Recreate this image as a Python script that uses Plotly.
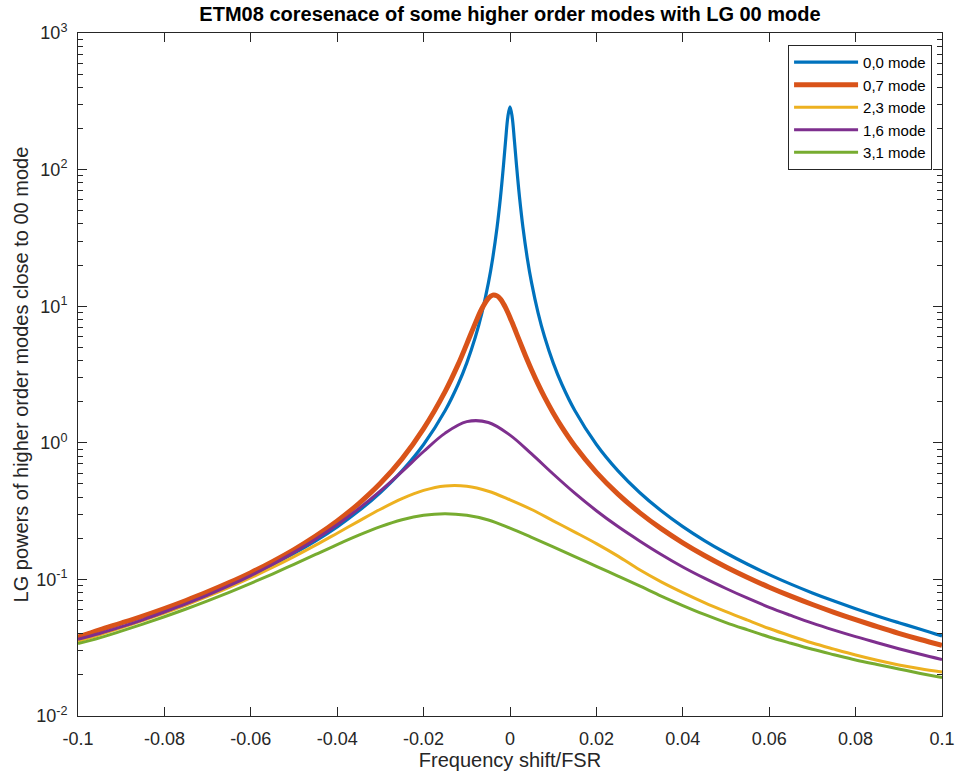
import plotly.graph_objects as go

# ---- data ----
X_SHARP = [-0.1, -0.095, -0.09, -0.085, -0.08, -0.075, -0.07, -0.065, -0.06, -0.055,
           -0.05, -0.045, -0.04, -0.035, -0.03, -0.025, -0.02, -0.015, -0.012, -0.01,
           -0.008, -0.0065, -0.005, -0.004, -0.003, -0.0022, -0.0015, -0.001, -0.0005,
           0,
           0.0005, 0.001, 0.0015, 0.0022, 0.003, 0.004, 0.005, 0.0065, 0.008, 0.01,
           0.012, 0.015, 0.02, 0.025, 0.03, 0.035, 0.04, 0.045, 0.05, 0.055,
           0.06, 0.065, 0.07, 0.075, 0.08, 0.085, 0.09, 0.095, 0.1]

MODE_00 = [0.038, 0.0428, 0.0478, 0.0536, 0.0605, 0.0689, 0.079, 0.0916, 0.1075, 0.128,
           0.155, 0.1915, 0.2425, 0.3175, 0.433, 0.623, 0.972, 1.724, 2.684, 3.85,
           5.97, 8.95, 14.81, 22.48, 37.7, 63.0, 108.3, 165.7, 243.1,
           288,
           243.1, 165.7, 108.3, 63.0, 37.7, 22.48, 14.81, 8.95, 5.97, 3.85,
           2.684, 1.724, 0.972, 0.623, 0.433, 0.3182, 0.2437, 0.1926, 0.156, 0.129,
           0.1084, 0.0923, 0.0796, 0.0694, 0.061, 0.054, 0.0482, 0.0432, 0.0385]

MODE_07 = [0.0378, 0.0427, 0.0479, 0.0539, 0.0612, 0.0701, 0.0810, 0.0947, 0.1120, 0.135,
           0.1653, 0.2075, 0.268, 0.359, 0.505, 0.763, 1.27, 2.38, 3.75, 5.3,
           7.55, 9.62, 11.45, 12.06, 11.9, 11.25, 10.4, 9.715, 9.0,
           8.28,
           7.59, 6.94, 6.333, 5.571, 4.818, 4.038, 3.41, 2.687, 2.157, 1.653,
           1.301, 0.947, 0.6077, 0.4211, 0.3084, 0.2353, 0.1853, 0.1496, 0.1234, 0.1034,
           0.0877, 0.0754, 0.0655, 0.0574, 0.0507, 0.0451, 0.0403, 0.0363, 0.0329]

X_BROAD = [-0.1, -0.095, -0.09, -0.085, -0.08, -0.075, -0.07, -0.065, -0.06, -0.055,
           -0.05, -0.045, -0.04, -0.035, -0.03, -0.025, -0.02, -0.015, -0.01, -0.005,
           0,
           0.005, 0.01, 0.015, 0.02, 0.025, 0.03, 0.035, 0.04, 0.045, 0.05,
           0.055, 0.06, 0.065, 0.07, 0.075, 0.08, 0.085, 0.09, 0.095, 0.1]

MODE_23 = [0.0352, 0.03935, 0.04416, 0.04987, 0.05672, 0.06497, 0.07504, 0.08743, 0.1029, 0.1222,
           0.1468, 0.1781, 0.2179, 0.2671, 0.326, 0.390, 0.4482, 0.4831, 0.4807, 0.4421,
           0.3824,
           0.325, 0.2685, 0.222, 0.1828, 0.148, 0.1176, 0.096, 0.0801, 0.0677, 0.0581,
           0.0503, 0.0437, 0.0385, 0.0342, 0.03085, 0.02795, 0.02558, 0.02366, 0.02218, 0.02100]

MODE_16 = [0.0365, 0.0402, 0.0449, 0.0506, 0.0577, 0.0662, 0.0767, 0.0899, 0.1067, 0.1285,
           0.1576, 0.1967, 0.2512, 0.3294, 0.4442, 0.6153, 0.8636, 1.177, 1.428, 1.409,
           1.1386,
           0.8294, 0.5911, 0.4279, 0.3184, 0.2437, 0.1913, 0.1522, 0.1233, 0.1021, 0.0858,
           0.0728, 0.0625, 0.0545, 0.0478, 0.0425, 0.0381, 0.0344, 0.0311, 0.0283, 0.0259]

MODE_31 = [0.0339, 0.03731, 0.04178, 0.04704, 0.05328, 0.06071, 0.06966, 0.08046, 0.09357, 0.1095,
           0.1289, 0.1522, 0.1798, 0.2107, 0.2433, 0.2734, 0.2952, 0.303, 0.2945, 0.2723,
           0.237,
           0.2032, 0.1732, 0.1469, 0.1245, 0.1058, 0.0896, 0.0755, 0.0644, 0.0554, 0.0483,
           0.0427, 0.0379, 0.0341, 0.0308, 0.0281, 0.0257, 0.0238, 0.0221, 0.0205, 0.0191]

X_TICKS = [-0.1, -0.08, -0.06, -0.04, -0.02, 0, 0.02, 0.04, 0.06, 0.08, 0.1]
X_TICK_LABELS = ["-0.1", "-0.08", "-0.06", "-0.04", "-0.02", "0", "0.02", "0.04", "0.06", "0.08", "0.1"]
Y_TICKS = [0.01, 0.1, 1, 10, 100, 1000]
Y_TICK_LABELS = ["10<sup>-2</sup>", "10<sup>-1</sup>", "10<sup>0</sup>", "10<sup>1</sup>",
                 "10<sup>2</sup>", "10<sup>3</sup>"]

SERIES = [
    ("0,0 mode", X_SHARP, MODE_00, "#0072BD", 3.2),
    ("0,7 mode", X_SHARP, MODE_07, "#D95319", 5),
    ("2,3 mode", X_BROAD, MODE_23, "#EDB120", 3),
    ("1,6 mode", X_BROAD, MODE_16, "#7E2F8E", 3),
    ("3,1 mode", X_BROAD, MODE_31, "#77AC30", 3),
]

FONT = "Liberation Sans, Arial, sans-serif"
AX = "#262626"

fig = go.Figure()
for name, xs, ys, color, w in SERIES:
    fig.add_trace(go.Scatter(x=xs, y=ys, name=name, mode="lines",
                             line=dict(color=color, width=w, shape="spline", smoothing=1.0)))

fig.update_layout(
    width=967, height=780,
    margin=dict(l=78, r=17, t=33, b=60),
    paper_bgcolor="white", plot_bgcolor="white",
    font=dict(family=FONT, size=18, color=AX),
    title=dict(text="<b>ETM08 coresenace of some higher order modes with LG 00 mode</b>",
               xref="paper", x=0.5, xanchor="center", y=0.9815, yanchor="middle",
               font=dict(size=20, color="black")),
    showlegend=True,
    legend=dict(x=0.9885, xanchor="right", y=0.9825, yanchor="top",
                bgcolor="white", bordercolor=AX, borderwidth=1,
                font=dict(size=15, color="black"), itemwidth=64,
                tracegroupgap=0),
)

# y-axis label placed as a rotated annotation so its position can be set exactly
fig.add_annotation(text="LG powers of higher order modes close to 00 mode",
                   xref="paper", yref="paper", x=-0.066, y=0.5,
                   xanchor="center", yanchor="middle", textangle=-90,
                   showarrow=False, font=dict(size=20, color=AX))

fig.update_xaxes(
    range=[-0.1, 0.1], tickvals=X_TICKS, ticktext=X_TICK_LABELS,
    ticks="inside", ticklen=9, tickwidth=1, tickcolor=AX,
    showline=True, linecolor=AX, linewidth=1, mirror="ticks",
    showgrid=False, zeroline=False, ticklabelstandoff=6,
    tickfont=dict(size=18, color=AX),
    title=dict(text="Frequency shift/FSR", font=dict(size=20, color=AX), standoff=5),
)
fig.update_yaxes(
    type="log", range=[-2, 3], tickvals=Y_TICKS, ticktext=Y_TICK_LABELS,
    ticks="inside", ticklen=9, tickwidth=1, tickcolor=AX,
    minor=dict(ticks="inside", ticklen=5, tickcolor=AX, dtick="D1", showgrid=False),
    showline=True, linecolor=AX, linewidth=1, mirror="allticks",
    showgrid=False, zeroline=False, ticklabelstandoff=6,
    tickfont=dict(size=18, color=AX),
)

# remove the browser's default 8px page margin so the figure fills the window exactly
fig.write_html("out.html", config={"displayModeBar": False},
               post_script="document.body.style.margin='0px';")
